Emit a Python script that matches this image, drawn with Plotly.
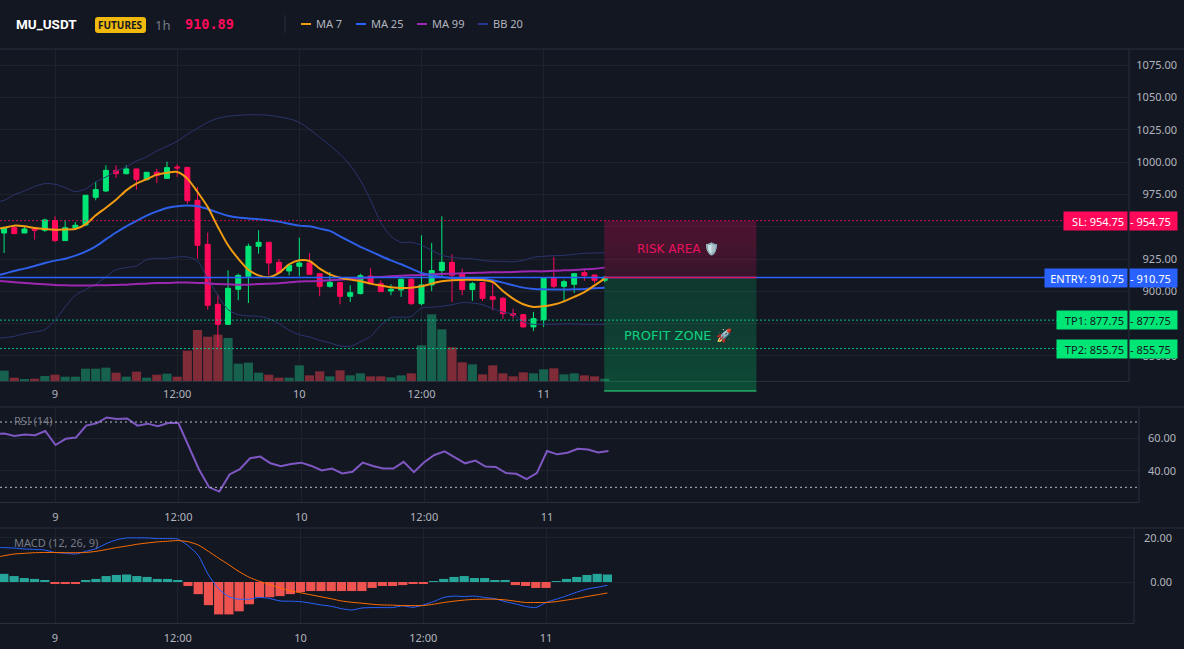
import plotly.graph_objects as go

# Hourly bars, hour 0 = midnight of the 9th
hours = list(range(-6, 55))
tick_hours = [0, 12, 24, 36, 48]
tick_labels = ["9", "12:00", "10", "12:00", "11"]

opens = [948, 945.2, 949.3, 945.2, 948.3, 947.3, 954.8, 939.3, 949.3, 951.4, 972.8, 977.7, 993.7, 991.1, 994.8, 986.5,
         992.2, 987.5, 996.3, 996, 970.5, 936.4, 890, 874.5, 901.6, 911.7, 934.9, 938, 922.5, 915.8, 919.4,
         922, 913.7, 903.9, 906.8, 896.2, 898.3, 911.9, 906, 900.3, 901.1, 909.4, 890.5, 905, 916.1, 922.5,
         913.2, 901.4, 906.9, 895.9, 894.6, 882.8, 882, 872.5, 878.1, 910.1, 903.9, 905.5, 914.5, 912.7, 908.6]
highs = [951, 950, 950.4, 950, 948.3, 956.3, 958.1, 955, 953.7, 974.4, 984.9, 997.6, 997.6, 997.6, 994.8, 992.2,
         994.8, 1000.4, 998.4, 996, 980.8, 945.5, 897.7, 916.3, 913.7, 937, 947.3, 938, 925.1, 920.2, 941.6,
         929.7, 913.7, 915, 906.8, 904.7, 913.7, 917.9, 908.6, 905.5, 909.9, 910.1, 943.4, 937.5, 958.1, 928.7,
         917.6, 907.3, 906.9, 906.8, 895.7, 886.6, 882, 884.1, 910.1, 926.6, 909.1, 913.7, 916.8, 912.7, 912]
lows = [944, 929.7, 944.7, 945.2, 940.1, 946, 938.2, 939, 947.8, 951, 970.5, 976.9, 987.8, 990.6, 978.8, 986,
        983.9, 987.5, 988.6, 967.9, 925.3, 885.9, 857, 874.5, 893.1, 891, 929.2, 912.4, 913.7, 912.4, 911.7,
        913.2, 896.2, 902.9, 890, 891.8, 897.7, 906, 899.8, 897, 895.7, 889.5, 889.2, 900.3, 911.7, 891.8,
        897, 892.6, 892.6, 885.4, 878.9, 878.9, 871.9, 869.4, 872.5, 902.4, 891.8, 898.8, 908.1, 906.5, 907]
closes = [945.2, 949.3, 944.7, 948.3, 947.3, 955.3, 939.3, 949.3, 951.2, 974.4, 978.8, 993.7, 991.1, 994.8, 986.5, 992.2,
          989.8, 995.8, 995.5, 970.2, 935.7, 889.2, 874.5, 902.4, 912.4, 934.9, 938, 922, 914.5, 920.2, 922,
          913.2, 903.9, 907, 896.2, 899, 912.2, 906, 899.8, 901.6, 909.4, 890.5, 905, 916.1, 922.5, 912.5,
          901.4, 906, 894.6, 893.9, 882.8, 881.5, 872.5, 878.9, 910.1, 903.9, 907.5, 913.7, 912.2, 908.6, 910.89]
volumes = [20, 31, 10, 6, 7, 15, 19, 13, 13, 37, 37, 40, 25, 13, 28, 10, 19, 22, 13, 91, 153, 133, 139, 129, 52, 55,
           25, 19, 10, 10, 47, 17, 29, 14, 32, 17, 23, 14, 14, 11, 17, 23, 107, 200, 155, 101, 56, 50, 20, 47, 23,
           14, 26, 23, 35, 38, 20, 23, 17, 14, 7]

ma7 = [948, 949.3, 950.9, 950.4, 949.1, 948.3, 947.8, 948, 948.3, 951.9, 958.9, 964.8, 971, 978.2, 983.4, 986.8,
       990.4, 991.9, 992.4, 987.3, 976.9, 965.3, 949.9, 935.7, 925.3, 916.8, 912.4, 910.9, 914.3, 921, 924.1,
       923.5, 917.6, 913.2, 910.6, 909.1, 907.8, 906, 904.5, 903.2, 902.6, 902.9, 903.9, 906, 907.8, 908.6,
       908.8, 909.1, 908.8, 907.3, 900.3, 894.4, 890, 888, 888.5, 889.8, 892.3, 895.7, 899.5, 904.7, 909.9]
ma25 = [911.7, 913.7, 915.8, 917.6, 919.7, 922, 923.8, 925.3, 927.7, 930.8, 934.9, 940.3, 945.6, 950.4, 954.6, 958.6,
        961.9, 964.6, 965.9, 966.4, 965.9, 963.8, 961, 958.6, 957.2, 956.5, 955.9, 955.1, 954, 952.4, 950.9,
        950.4, 948.6, 946.8, 942.6, 938.5, 934.4, 931, 927.4, 924, 921, 917.6, 914.3, 912.5, 911.2, 910.4,
        910.1, 910.4, 909.9, 908.6, 906.8, 904.7, 902.9, 901.9, 901.6, 901.4, 901.4, 901.6, 901.9, 902.4, 902.9]
ma99 = [908.3, 907.8, 907, 906.5, 906, 905.5, 905, 904.7, 904.5, 904.5, 904.7, 904.7, 905, 905.2, 905.7, 906,
        906.5, 906.5, 906.8, 906.8, 906.5, 906.3, 905.7, 905.5, 905.2, 905.2, 905.7, 906, 906.3, 907, 907.6,
        907.8, 908, 908.6, 909.1, 909.6, 910.1, 910.9, 911.2, 911.7, 912.2, 912.5, 912.7, 913.2, 913.5, 913.7,
        914, 914.3, 914.5, 914.8, 914.8, 915, 915.3, 915.5, 915.5, 916, 916.3, 916.6, 917.1, 917.6, 918.4]
bb_upper = [968.7, 970.5, 974.9, 977.7, 981.3, 983.4, 982.9, 980.3, 977.2, 979.3, 984.7, 988.5, 993.2, 996.3, 1000.9,
            1004, 1008.7, 1012.3, 1016.2, 1021.6, 1026.2, 1030.9, 1034, 1035.5, 1036.3, 1036.7, 1036.7, 1036.3,
            1035.1, 1033.6, 1030.9, 1025.5, 1019.3, 1013.1, 1006.1, 997.6, 986, 970.5, 953.5, 942.6, 938,
            938, 935.7, 931.8, 927.9, 926.4, 925.6, 925.2, 924, 923.3, 923.3, 922.9, 924, 926.4, 927.2, 927.6,
            927.9, 928.7, 929.5, 929.7, 929.9]
bb_lower = [863.2, 864.2, 865.2, 867.3, 868.6, 870.4, 877.6, 887.9, 897, 901.4, 905.5, 911.2, 916.8, 918.4, 919.7, 924.6,
            925.6, 925.6, 926.6, 926.6, 923.5, 909.9, 897, 885.9, 882, 881, 880.7, 878.9, 875, 869.9, 866.5,
            864.7, 862.1, 860.1, 857.8, 857.5, 860.9, 865.2, 873.8, 879.7, 880, 880.5, 887.2, 887.7, 888.5, 889.7,
            891.3, 891, 889.7, 886.6, 884, 882.3, 876.3, 874.5, 874.5, 874.5, 874.8, 874.8, 874.5, 874.5, 874.5]

rsi = [62.8, 62.9, 61.5, 62.3, 61.9, 64.5, 55.9, 59.7, 60.5, 67.8, 69.2, 72.8, 71.8, 72.2, 67.8, 69, 67.4, 69.4, 69.4,
       54.9, 41.1, 30, 27.4, 37.9, 41.1, 47.8, 48.8, 44.7, 42.9, 44.3, 45.1, 43.1, 40.3, 41.5, 38.5, 39.5, 45.1, 43.1,
       41.5, 41.5, 45.6, 39.3, 45.4, 49.8, 52, 48.4, 44.7, 46.4, 42.7, 42.5, 38.7, 38.3, 35, 38.7, 52.2, 50.2, 51.2,
       53.6, 53.2, 51.4, 52.2]
macd_line = [15.7, 15.6, 15.4, 15, 14.8, 14.5, 13.4, 13.1, 12.7, 13.9, 15.1, 17.4, 19.1, 20, 20, 20, 19.7, 19.7, 19.5,
             16.5, 12.1, 3.2, -3.1, -6.7, -7.8, -7.8, -7, -7.5, -8.6, -8.7, -8.9, -9.6, -10.4, -11, -12.1, -12.7,
             -11.8, -11.6, -11.6, -11.6, -10.8, -11.5, -10.4, -8.9, -7, -6.4, -6.6, -6.4, -7, -7.6, -8.9, -9.9,
             -11.1, -11.6, -9.3, -7.8, -6.3, -4.6, -3.2, -2.4, -1.5]
macd_signal = [11, 11.9, 12.7, 13, 13.3, 13.4, 13.4, 13.3, 13.3, 13.4, 13.9, 14.7, 15.6, 16.3, 17.1, 17.7, 18.2, 18.5,
               18.8, 18.3, 16.8, 13.9, 10.8, 7.8, 4.7, 2.1, 0.3, -1.1, -2.7, -4, -4.9, -5.8, -6.7, -7.6, -8.6, -9.2,
               -9.6, -10.1, -10.4, -10.5, -10.7, -10.7, -10.7, -10.1, -9.3, -8.7, -8.2, -7.9, -7.8, -7.8, -8.1, -8.7,
               -9.3, -9.3, -9.3, -8.9, -8.2, -7.5, -6.6, -5.8, -5]
macd_hist = [4, 3.7, 2.7, 1.8, 1.4, 0.9, -0.5, -0.5, -0.9, 0.5, 1.4, 2.7, 3.2, 3.4, 2.7, 2.3, 1.4, 1.4, 0.9, -1.8, -5.5,
             -10.5, -14.7, -14.7, -13.3, -10.1, -6.9, -6.9, -6.4, -5.5, -4.6, -4.1, -4.1, -4.1, -4.1, -4.1, -4.1,
             -2.7, -1.8, -1.8, -1.4, -0.5, -0.9, 0.2, 1.4, 2.3, 2.7, 1.8, 1.8, 0.9, 0.5, -1.4, -1.8, -2.7, -2.7, 0.2,
             1.4, 2.3, 3.2, 3.7, 3.4, 3.2][:61]

stop_loss = 954.75
entry = 910.75
take_profit_1 = 877.75
take_profit_2 = 855.75
last_price = "910.89"
profit_floor = 822.9
zone_hours = (53.95, 68.9)

price_ticks = [850, 875, 900, 925, 950, 975, 1000, 1025, 1050, 1075]
shown_price_ticks = [850, 900, 925, 975, 1000, 1025, 1050, 1075]
rsi_ticks = [40, 60]
macd_ticks = [0, 20]

W, H = 1184, 649
BG = "#131722"
GRID = "#1d222d"
BORDER = "#2b2f3a"
TICK = "#b2b5be"
MUTED = "#787b86"
UP = "#00e676"
DOWN = "#ff0a5a"
UP_LEVEL = "rgba(0,230,150,0.8)"
DOWN_LEVEL = "rgba(255,10,90,0.75)"
FONT = "Noto Sans"


def px(x):
    return x / W


def py(y):
    return 1 - y / H


PRICE_RANGE = (830.63, 1087.63)
MAIN_TOP, MAIN_BOTTOM = 49, 381


def price_to_paper(p):
    lo, hi = PRICE_RANGE
    return py(MAIN_BOTTOM) + (p - lo) / (hi - lo) * (py(MAIN_TOP) - py(MAIN_BOTTOM))


fig = go.Figure()

# Price pane: volume underneath, candles and moving averages on top
fig.add_bar(x=hours, y=volumes, xaxis="x", yaxis="y", width=0.9,
            marker=dict(color=["#17614f" if c >= o else "#7f2b38" for o, c in zip(opens, closes)], line_width=0))
fig.add_candlestick(x=hours, open=opens, high=highs, low=lows, close=closes, xaxis="x", yaxis="y2",
                    increasing=dict(line=dict(color=UP, width=1), fillcolor=UP),
                    decreasing=dict(line=dict(color=DOWN, width=1), fillcolor=DOWN))
for series, color, width in [(bb_upper, "#2a3570", 1), (bb_lower, "#2a3570", 1), (ma99, "#9c27b0", 2),
                             (ma25, "#2d5fe8", 2), (ma7, "#f39c12", 2)]:
    fig.add_scatter(x=hours, y=series, mode="lines", xaxis="x", yaxis="y2",
                    line=dict(color=color, width=width, shape="spline", smoothing=0.8))

# RSI pane
fig.add_scatter(x=hours, y=rsi, mode="lines", xaxis="x2", yaxis="y3", line=dict(color="#7e57c2", width=2))

# MACD pane
fig.add_bar(x=hours, y=macd_hist, xaxis="x3", yaxis="y4", width=0.9,
            marker=dict(color=["#26a69a" if v >= 0 else "#ef5350" for v in macd_hist], line_width=0))
fig.add_scatter(x=hours, y=macd_line, mode="lines", xaxis="x3", yaxis="y4",
                line=dict(color="#2962ff", width=1, shape="spline", smoothing=0.6))
fig.add_scatter(x=hours, y=macd_signal, mode="lines", xaxis="x3", yaxis="y4",
                line=dict(color="#ff6d00", width=1, shape="spline", smoothing=0.6))


def time_axis(left_px, hour_px, right_px, anchor, standoff):
    return dict(domain=[0, px(right_px)], range=[-left_px / hour_px, (right_px - left_px) / hour_px],
                tickmode="array", tickvals=tick_hours, ticktext=tick_labels, ticklen=0, anchor=anchor,
                ticklabelstandoff=standoff, showgrid=True, gridcolor=GRID, gridwidth=1, zeroline=False,
                showline=True, linecolor=BORDER, linewidth=1, tickfont=dict(family=FONT, size=11, color=TICK),
                rangeslider=dict(visible=False))


def value_axis(top, bottom, rng, ticks, right, overlay=None):
    axis = dict(domain=[py(bottom), py(top)], range=list(rng), tickmode="array", tickvals=ticks,
                ticktext=[f"{t:.2f}" for t in ticks], ticklen=0, side="left", anchor="free", position=px(right),
                showgrid=True, gridcolor=GRID, gridwidth=1, zeroline=False, showline=False,
                tickfont=dict(family=FONT, size=11, color=TICK))
    if overlay:
        axis["overlaying"] = overlay
    return axis


shapes = []


def rule(x0, y0, x1, y1, color=BORDER, width=1, dash="solid", xref="paper", yref="paper"):
    shapes.append(dict(type="line", xref=xref, yref=yref, x0=x0, y0=y0, x1=x1, y1=y1,
                       line=dict(color=color, width=width, dash=dash), layer="above"))


# Pane frames
rule(0, py(49), 1, py(49))
rule(0, py(407), 1, py(407))
rule(0, py(528), 1, py(528))
rule(px(1129), py(49), px(1129), py(381))
rule(px(1139), py(407), px(1139), py(502))
rule(px(1134), py(528), px(1134), py(623))
rule(px(285), py(15), px(285), py(33), color="#2b2f3a")

# Risk and profit zones, fading band by band
RISK_ALPHA = [0.235, 0.23, 0.225, 0.215, 0.205, 0.19, 0.175, 0.16]
PROFIT_ALPHA = [0.16, 0.17, 0.175, 0.185, 0.19, 0.20, 0.21, 0.22, 0.235, 0.25]
for i, a in enumerate(RISK_ALPHA):
    y0 = stop_loss + (entry - stop_loss) * i / len(RISK_ALPHA)
    y1 = stop_loss + (entry - stop_loss) * (i + 1) / len(RISK_ALPHA)
    shapes.append(dict(type="rect", xref="x", yref="paper", x0=zone_hours[0], x1=zone_hours[1],
                       y0=price_to_paper(y0), y1=price_to_paper(y1), fillcolor=f"rgba(255,10,90,{a})",
                       line_width=0, layer="above"))
for i, a in enumerate(PROFIT_ALPHA):
    y0 = entry + (profit_floor - entry) * i / len(PROFIT_ALPHA)
    y1 = entry + (profit_floor - entry) * (i + 1) / len(PROFIT_ALPHA)
    shapes.append(dict(type="rect", xref="x", yref="paper", x0=zone_hours[0], x1=zone_hours[1],
                       y0=price_to_paper(y0), y1=price_to_paper(y1), fillcolor=f"rgba(0,230,118,{a})",
                       line_width=0, layer="above"))

# Order levels
rule(0, stop_loss, px(1064), stop_loss, color=DOWN_LEVEL, dash="2px,2px", yref="y2")
rule(0, entry, px(1045), entry, color="#2962ff", width=1.4, yref="y2")
rule(0, take_profit_1, px(1057), take_profit_1, color=UP_LEVEL, dash="2px,2px", yref="y2")
rule(0, take_profit_2, px(1057), take_profit_2, color=UP_LEVEL, dash="2px,2px", yref="y2")
rule(zone_hours[0], entry, zone_hours[1], entry, color="#e0185f", width=1.4, xref="x", yref="y2")
rule(zone_hours[0], price_to_paper(profit_floor), zone_hours[1], price_to_paper(profit_floor), color="#2ee87f",
     xref="x")

# RSI bands
rule(0, 70, px(1139), 70, color="#b8bbc4", dash="2px,3px", yref="y3")
rule(0, 30, px(1139), 30, color="#b8bbc4", dash="2px,3px", yref="y3")

# Header badge
shapes.append(dict(type="path", xref="paper", yref="paper", fillcolor="#f0b90b", line_width=0, layer="above",
                   path=f"M {px(98)} {py(17)} L {px(143)} {py(17)} Q {px(146)} {py(17)} {px(146)} {py(20)} "
                        f"L {px(146)} {py(30)} Q {px(146)} {py(33)} {px(143)} {py(33)} L {px(98)} {py(33)} "
                        f"Q {px(95)} {py(33)} {px(95)} {py(30)} L {px(95)} {py(20)} Q {px(95)} {py(17)} {px(98)} {py(17)} Z"))

# Legend keys
legend_items = [("MA 7", "#f39c12", 301), ("MA 25", "#2962ff", 356), ("MA 99", "#9c27b0", 417), ("BB 20", "#283593", 478)]
for _, color, x in legend_items:
    rule(px(x), py(24), px(x + 10), py(24), color=color, width=2)

annotations = []


def label(x, y, text, size=12, color=TICK, bold=False, family=FONT, anchor="left"):
    annotations.append(dict(xref="paper", yref="paper", x=px(x), y=py(y), text=f"<b>{text}</b>" if bold else text,
                            showarrow=False, xanchor=anchor, yanchor="middle", borderpad=0,
                            font=dict(family=family, size=size, color=color)))


label(15, 24, "MU_USDT", size=13.5, color="#ffffff", bold=True, family="Roboto")
label(120.5, 25, "FUTURES", size=10, color="#131722", bold=True, anchor="center")
label(154, 25, "1h", size=13, color=MUTED)
label(184, 24, last_price, size=13.5, color=DOWN, bold=True, family="DejaVu Sans Mono")
for text, _, x in legend_items:
    label(x + 14, 24, text, size=11, color="#b2b5be")
label(13, 421, "RSI (14)", size=11, color=MUTED)
label(13, 542, "MACD (12, 26, 9)", size=11, color=MUTED)


def zone_label(hour, price, text, color, size):
    annotations.append(dict(xref="x", yref="y2", x=hour, y=price, text=text, showarrow=False, xanchor="center",
                            yanchor="middle", font=dict(family="DejaVu Sans", size=size, color=color)))


zone_label(61.2, 932.7, "RISK AREA 🛡️", "#e8115f", 12)
zone_label(61.2, 865.7, "PROFIT ZONE 🚀", "#10d080", 13)


def level_tag(price, name, left, fill, ink):
    """Two adjoining tags: the order name against the price scale and the level on the scale."""
    annotations.append(dict(xref="paper", yref="y2", x=px(1128), y=price, text=f"{name}: {price:.2f}\u00a0",
                            showarrow=False, xanchor="right", yanchor="middle", align="right",
                            width=1128 - left - 2, height=18, bgcolor=fill, borderpad=0,
                            font=dict(family=FONT, size=11, color=ink)))
    annotations.append(dict(xref="paper", yref="y2", x=px(1178), y=price, text=f"-\u00a0{price:.2f}",
                            showarrow=False, xanchor="right", yanchor="middle", align="left",
                            width=47, height=18, bgcolor=fill, borderpad=0,
                            font=dict(family=FONT, size=11, color=ink)))


level_tag(stop_loss, "SL", 1063, DOWN, "#ffffff")
level_tag(entry, "ENTRY", 1044, "#2962ff", "#ffffff")
level_tag(take_profit_1, "TP1", 1056, UP, "#131722")
level_tag(take_profit_2, "TP2", 1056, UP, "#131722")

main_y = value_axis(MAIN_TOP, MAIN_BOTTOM, PRICE_RANGE, price_ticks, 1177, overlay="y")
main_y["ticktext"] = [f"{t:.2f}" if t in shown_price_ticks else "" for t in price_ticks]

fig.update_layout(
    width=W, height=H, autosize=False, margin=dict(l=0, r=0, t=0, b=0), paper_bgcolor=BG, plot_bgcolor=BG,
    showlegend=False, barmode="overlay", hovermode=False,
    xaxis=time_axis(55, 10.18, 1129, "y", 3),
    xaxis2=time_axis(55.5, 10.24, 1139, "y3", 5),
    xaxis3=time_axis(55, 10.23, 1134, "y4", 5),
    yaxis=dict(domain=[py(MAIN_BOTTOM), py(MAIN_TOP)], range=[0, 996], visible=False, anchor="x"),
    yaxis2=main_y,
    yaxis3=value_axis(407, 502, (21, 79.2), rsi_ticks, 1176),
    yaxis4=value_axis(528, 623, (-18.6, 24.5), macd_ticks, 1172),
    shapes=shapes, annotations=annotations,
)

fig.write_html("out.html", config=dict(displayModeBar=False))
